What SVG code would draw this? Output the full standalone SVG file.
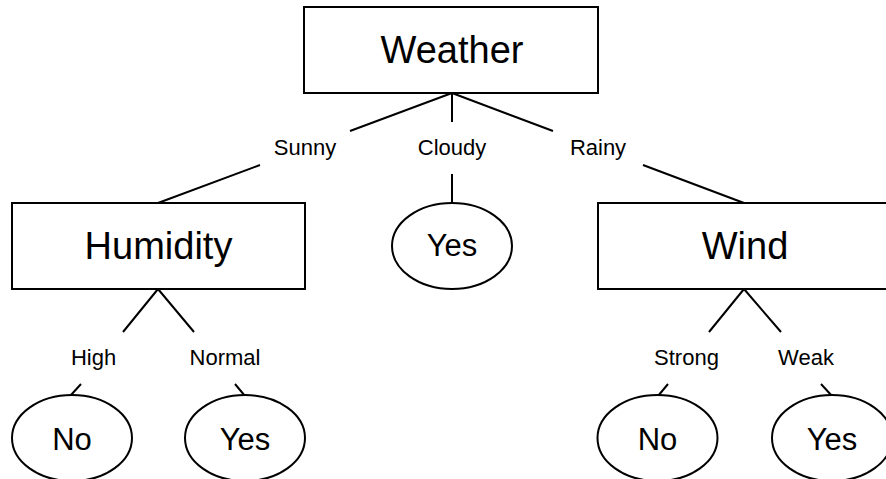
<svg xmlns="http://www.w3.org/2000/svg" width="886" height="479" viewBox="0 0 886 479">
<style>
  .box { fill: #fff; stroke: #000; stroke-width: 2; }
  .leaf { fill: #fff; stroke: #000; stroke-width: 2; }
  .edge { stroke: #000; stroke-width: 2; fill: none; }
  text { font-family: "Liberation Sans", Arial, sans-serif; fill: #000; text-anchor: middle; }
  .big { font-size: 38px; }
  .leaft { font-size: 31px; }
  .lbl { font-size: 22px; }
</style>
<rect width="886" height="479" fill="#fff"/>
<g id="connectors">
  <path class="edge" d="M452,93 L350,131 M260,165 L158,203"/>
  <path class="edge" d="M452,93 L452,122 M452,174 L452,203"/>
  <path class="edge" d="M452,93 L553,131 M643,165 L744,203"/>
  <path class="edge" d="M158,289 L123,332 M81,384 L71,395"/>
  <path class="edge" d="M158,289 L194,332 M235,384 L245,396"/>
  <path class="edge" d="M744,289 L709,332 M668,384 L658,396"/>
  <path class="edge" d="M744,289 L781,332 M821,384 L832,396"/>
  <text class="lbl" x="305" y="155">Sunny</text>
  <text class="lbl" x="452" y="155">Cloudy</text>
  <text class="lbl" x="598" y="155">Rainy</text>
  <text class="lbl" x="93.5" y="365">High</text>
  <text class="lbl" x="225" y="365">Normal</text>
  <text class="lbl" x="686.5" y="365">Strong</text>
  <text class="lbl" x="806" y="365">Weak</text>
</g>
<g id="weather">
  <rect class="box" x="304" y="7" width="294" height="86"/>
  <text class="big" x="452" y="63">Weather</text>
</g>
<g id="humidity">
  <rect class="box" x="12" y="203" width="293" height="86"/>
  <text class="big" x="158.5" y="259">Humidity</text>
</g>
<g id="wind">
  <rect class="box" x="598" y="203" width="293" height="86"/>
  <text class="big" x="745" y="259">Wind</text>
</g>
<g id="cloudy-yes">
  <ellipse class="leaf" cx="452" cy="246" rx="60" ry="43"/>
  <text class="leaft" x="452" y="256">Yes</text>
</g>
<g id="high-no">
  <ellipse class="leaf" cx="72" cy="438" rx="60" ry="43"/>
  <text class="leaft" x="72" y="450">No</text>
</g>
<g id="normal-yes">
  <ellipse class="leaf" cx="245" cy="438" rx="60" ry="43"/>
  <text class="leaft" x="245" y="450">Yes</text>
</g>
<g id="strong-no">
  <ellipse class="leaf" cx="657.5" cy="438" rx="60" ry="43"/>
  <text class="leaft" x="657.5" y="450">No</text>
</g>
<g id="weak-yes">
  <ellipse class="leaf" cx="832" cy="438" rx="60" ry="43"/>
  <text class="leaft" x="832" y="450">Yes</text>
</g>
</svg>
